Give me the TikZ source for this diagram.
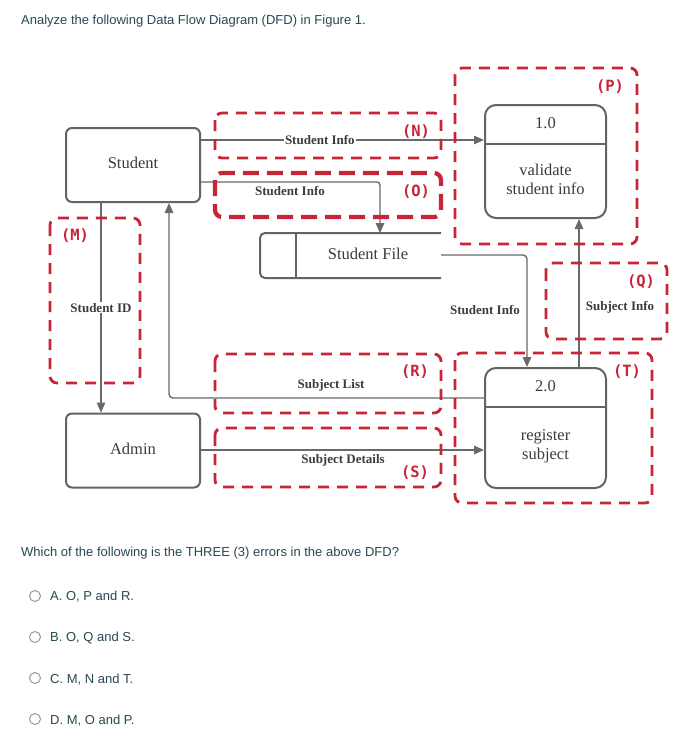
\documentclass[tikz,border=0pt]{standalone}
\usepackage{fontspec}
\setmainfont{Liberation Serif}
\newfontfamily\arialf{Liberation Sans}
\newfontfamily\monof{DejaVu Sans Mono}
\usetikzlibrary{arrows.meta}
\definecolor{errred}{RGB}{200,36,58}
\definecolor{boxgray}{RGB}{100,100,100}
\definecolor{linegray}{RGB}{105,105,105}
\definecolor{txtdark}{RGB}{60,60,60}
\definecolor{qtext}{RGB}{40,72,82}
\tikzset{
  entity/.style={draw=boxgray, line width=2pt, rounded corners=6pt, minimum width=134pt, minimum height=74pt, inner sep=0pt},
  procbox/.style={draw=boxgray, line width=2pt, rounded corners=11pt, minimum width=121pt, inner sep=0pt},
  divline/.style={draw=boxgray, line width=2pt},
  boxtxt/.style={font=\fontsize{16.5}{19}\selectfont, text=txtdark, align=center, inner sep=0pt},
  flow/.style={draw=linegray, line width=1.4pt, -{Triangle[length=10pt,width=8.5pt]}},
  flowlbl/.style={font=\bfseries\fontsize{13}{15}\selectfont, text=txtdark, inner sep=1pt},
  redbox/.style={draw=errred, line width=2.8pt, dash pattern=on 11pt off 8pt, rounded corners=7pt},
  redthick/.style={draw=errred, line width=4.2pt, dash pattern=on 16pt off 8pt, rounded corners=7pt},
  errlbl/.style={font=\monof\bfseries\fontsize{15.5}{16}\selectfont, text=errred, inner sep=0pt},
  qtxt/.style={font=\arialf\fontsize{13}{15}\selectfont, text=qtext, inner sep=0pt, anchor=base west},
  radio/.style={draw=gray!80, line width=1pt, circle, minimum size=11pt, inner sep=0pt}
}
\begin{document}
\begin{tikzpicture}[x=1pt,y=-1pt]
\useasboundingbox (0,0) rectangle (696,740);
\fill[white] (0,0) rectangle (696,740);

% title
\node[qtxt] (title) at (21,24.3) {Analyze the following Data Flow Diagram (DFD) in Figure 1.};

% entities
\node[entity] (st) at (133,165) {};
\node[boxtxt] (sttxt) at (133,163) {Student};
\node[entity] (ad) at (133,450.5) {};
\node[boxtxt] (adtxt) at (133,449) {Admin};

% processes
\node[procbox, minimum height=113pt] (p1) at (545.5,161.5) {};
\draw[divline] (p1.west |- 0,144) -- (p1.east |- 0,144);
\node[boxtxt] (p1num) at (545.5,123) {1.0};
\node[boxtxt] (p1txt) at (545.5,179.5) {validate\\student info};

\node[procbox, minimum height=120pt] (p2) at (545.5,428) {};
\draw[divline] (p2.west |- 0,407) -- (p2.east |- 0,407);
\node[boxtxt] (p2num) at (545.5,386) {2.0};
\node[boxtxt] (p2txt) at (545.5,446.5) {register\\subject};

% data store
\draw[divline, rounded corners=5pt] (441,233) -- (260,233) -- (260,278) -- (441,278);
\draw[divline] (296,233) -- (296,278);
\node[boxtxt] (sf) at (368,254) {Student File};
\coordinate (sfin) at (380,233);
\coordinate (sfout) at (441,255);

% connectors
\draw[flow] (st.east |- 0,140) -- (p1.west |- 0,140)
  node[flowlbl, fill=white, pos=0.42] (lblN) {Student Info};
\draw[flow, rounded corners=3pt] (st.east |- 0,182) -- (sfin |- 0,182) -- (sfin);
\node[flowlbl] (lblO) at (290,191) {Student Info};
\draw[flow, rounded corners=4pt] (sfout) -- (527,255) -- (p2.north -| 527,0);
\node[flowlbl] (lblF) at (485,310) {Student Info};
\draw[flow] (p2.north -| 579,0) -- (p1.south -| 579,0);
\node[flowlbl] (lblQ) at (620,307) {Subject Info};
\draw[flow] (st.south -| 101,0) -- (ad.north -| 101,0)
  node[flowlbl, fill=white, pos=0.5] (lblM) {Student ID};
\draw[flow, rounded corners=4pt] (p2.west |- 0,398) -- (169,398) -- (st.south -| 169,0);
\node[flowlbl] (lblR) at (331,385) {Subject List};
\draw[flow] (ad.east |- 0,450) -- (p2.west |- 0,450);
\node[flowlbl] (lblS) at (343,460) {Subject Details};

% red error boxes
\draw[redbox] (215,113) rectangle (441,158);
\node[errlbl] (eN) at (416,132) {(N)};
\draw[redthick] (215,173) rectangle (441,217);
\node[errlbl] (eO) at (416,192) {(O)};
\draw[redbox] (455,68) rectangle (637,244);
\node[errlbl] (eP) at (610,87) {(P)};
\draw[redbox] (50,218) rectangle (140,383);
\node[errlbl] (eM) at (75,236) {(M)};
\draw[redbox] (546,263) rectangle (667,339);
\node[errlbl] (eQ) at (641,282) {(Q)};
\draw[redbox] (455,353) rectangle (652,503);
\node[errlbl] (eT) at (627,372) {(T)};
\draw[redbox] (215,354) rectangle (441,413);
\node[errlbl] (eR) at (415,372) {(R)};
\draw[redbox] (215,428) rectangle (441,487);
\node[errlbl] (eS) at (415,473) {(S)};

% question
\node[qtxt] (q) at (21,556.5) {Which of the following is the THREE (3) errors in the above DFD?};
\node[radio] (ra) at (35,596) {};
\node[qtxt] (oa) at (50,600.7) {A. O, P and R.};
\node[radio] (rb) at (35,637) {};
\node[qtxt] (ob) at (50,641.7) {B. O, Q and S.};
\node[radio] (rc) at (35,678) {};
\node[qtxt] (oc) at (50,683) {C. M, N and T.};
\node[radio] (rd) at (35,719) {};
\node[qtxt] (od) at (50,724) {D. M, O and P.};
\end{tikzpicture}
\end{document}
